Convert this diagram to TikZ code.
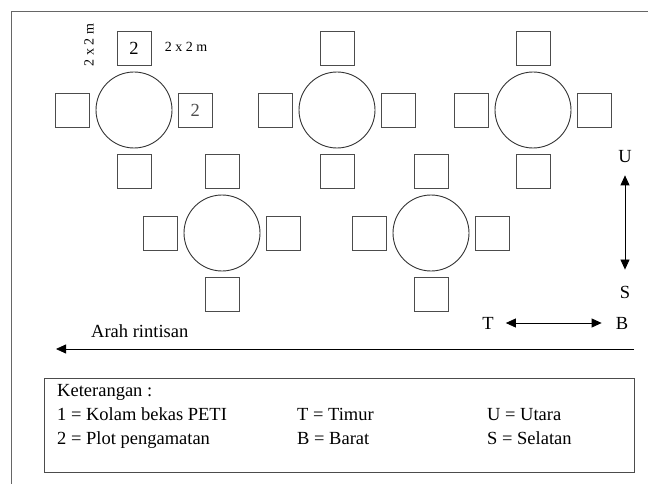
\documentclass[tikz,border=0pt]{standalone}
\usepackage{fontspec}
\setmainfont{Liberation Serif}
\usetikzlibrary{positioning,arrows.meta}

\tikzset{
  kolam/.style = {draw = black!80, circle, minimum size = 76pt, inner sep = 0pt, line width = 0.9pt},
  plot/.style = {draw = black!70, rectangle, minimum size = 34pt, inner sep = 0pt, line width = 0.8pt},
  teks/.style = {font = \fontsize{18.5}{20}\selectfont, inner sep = 0pt},
  kecil/.style = {font = \fontsize{14}{15}\selectfont, inner sep = 0pt},
  panah/.style = {-{Triangle[length = 10pt, width = 9pt]}, line width = 0.8pt},
  dua/.style = {{Triangle[length = 10pt, width = 9pt]}-{Triangle[length = 10pt, width = 9pt]}, line width = 0.8pt},
}

\begin{document}
\begin{tikzpicture}[x = 1pt, y = -1pt]
  \useasboundingbox (0,0) rectangle (648,484);
  % bingkai
  \path[draw, black!60, line width = 0.8pt](11,484) |- (648,11);
  % kolam + plot
  \foreach \n/\x/\y in {1/134/110, 2/337/110, 3/533/110, 4/222/233, 5/431/233}{
    \node[kolam](k\n)at(\x,\y){};
    \node[plot, above = 5.5pt of k\n](k\n-u){};
    \node[plot, below = 5.5pt of k\n](k\n-s){};
    \node[plot, left = 5.5pt of k\n](k\n-t){};
    \node[plot, right = 5.5pt of k\n](k\n-b){};
  }
  \node[teks](n1)at(k1-u){2};
  \node[teks, black!70](n2)at(k1-b){2};
  % ukuran plot
  \node[kecil, rotate = 90](ukuran1)at(89,45){2 x 2 m};
  \node[kecil](ukuran2)at(186,47){2 x 2 m};
  % arah mata angin
  \node[teks](U)at(625,157){U};
  \node[teks](S)at(625,292){S};
  \path[draw, dua, shorten < = 12pt, shorten > = 16pt](U)--(S);
  \node[teks](T)at(488,323){T};
  \node[teks](B)at(622,323){B};
  \path[draw, dua, shorten < = 12pt, shorten > = 14pt](T)--(B);
  % arah rintisan
  \coordinate(rkanan)at(634,349);
  \coordinate(rkiri)at(56,349);
  \path[draw, panah](rkanan)--(rkiri);
  \node[teks, anchor = base west](arah)at(91,337){Arah rintisan};
  % keterangan
  \path[draw, black!70, line width = 0.9pt](44,378) rectangle (634,472);
  \node[teks, anchor = base west](ket)at(57,396){Keterangan :};
  \node[teks, anchor = base west](ket1)at(57,420){1 = Kolam bekas PETI};
  \node[teks, anchor = base west](ket2)at(57,444){2 = Plot pengamatan};
  \node[teks, anchor = base west](ketT)at(297,420){T = Timur};
  \node[teks, anchor = base west](ketB)at(297,444){B = Barat};
  \node[teks, anchor = base west](ketU)at(487,420){U = Utara};
  \node[teks, anchor = base west](ketS)at(487,444){S = Selatan};
\end{tikzpicture}
\end{document}
